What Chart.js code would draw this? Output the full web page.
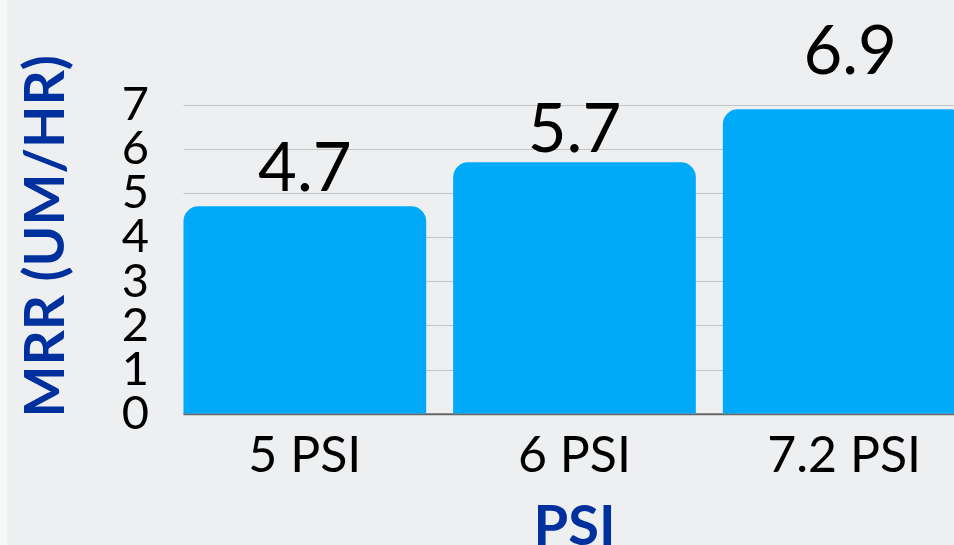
<!DOCTYPE html>
<html>
<head>
<meta charset="utf-8">
<script src="https://cdn.jsdelivr.net/npm/chart.js@4.4.0/dist/chart.umd.min.js"></script>
<style>
  html, body {
    margin: 0;
    padding: 0;
    overflow: hidden;
    background: #eeeff1;
  }
  body {
    width: 954px;
    height: 545px;
    position: relative;
  }
  .strip {
    position: absolute;
    left: 0;
    top: 0;
    width: 7px;
    height: 545px;
    background: #f6f7f7;
  }
  #wrap {
    position: absolute;
    left: 0;
    top: 0;
    width: 1000px;
    height: 561px;
  }
</style>
</head>
<body>
<div class="strip"></div>
<div id="wrap"><canvas id="myChart"></canvas></div>
<script>
let categories = ["5 PSI", "6 PSI", "7.2 PSI"];
let mrrValues = [4.7, 5.7, 6.9];
let yTicks = [0, 1, 2, 3, 4, 5, 6, 7];

let fontName = "Lato, 'Noto Sans', sans-serif";

// grid lines and axis line start at the first bar, not at the chart edge
let gridPlugin = {
  id: "gridLines",
  beforeDatasetsDraw(chart) {
    let ctx = chart.ctx;
    let bar = chart.getDatasetMeta(0).data[0];
    let left = bar.x - bar.width / 2;
    let right = chart.chartArea.right;
    let y = chart.scales.y;

    ctx.save();
    ctx.strokeStyle = "#c4c4c4";
    ctx.lineWidth = 1;
    yTicks.forEach(v => {
      if (v === 0) return;
      let py = Math.round(y.getPixelForValue(v)) + 0.5;
      ctx.beginPath();
      ctx.moveTo(left, py);
      ctx.lineTo(right, py);
      ctx.stroke();
    });

    ctx.strokeStyle = "#666666";
    ctx.lineWidth = 2;
    let by = y.getPixelForValue(0) + 0.5;
    ctx.beginPath();
    ctx.moveTo(left, by);
    ctx.lineTo(right, by);
    ctx.stroke();
    ctx.restore();
  }
};

// value labels above each bar
let labelPlugin = {
  id: "valueLabels",
  afterDatasetsDraw(chart, args, opts) {
    let ctx = chart.ctx;
    ctx.save();
    ctx.font = "400 67px " + fontName;
    ctx.fillStyle = "#000000";
    ctx.textAlign = "center";
    ctx.textBaseline = "alphabetic";
    chart.getDatasetMeta(0).data.forEach((bar, i) => {
      let gap = opts.gaps[i] || 12;
      let dx = opts.shifts[i] || 0;
      ctx.fillText(String(mrrValues[i]), bar.x + dx, bar.y - gap);
    });
    ctx.restore();
  }
};

let ctx = document.getElementById("myChart").getContext("2d");

let myChart = new Chart(ctx, {
  type: "bar",
  data: {
    labels: categories,
    datasets: [{
      label: "MRR",
      data: mrrValues,
      backgroundColor: "#00aaf9",
      borderRadius: 15,
      borderSkipped: "bottom",
      barPercentage: 0.9,
      categoryPercentage: 1
    }]
  },
  options: {
    responsive: true,
    maintainAspectRatio: false,
    animation: false,
    layout: {
      padding: { top: 59, right: 21, bottom: 0, left: 0 }
    },
    plugins: {
      legend: { display: false },
      tooltip: { enabled: false },
      valueLabels: {
        gaps: [15, 10, 35],
        shifts: [0, 0, 6]
      }
    },
    scales: {
      x: {
        grid: { display: false, drawTicks: false },
        border: { display: false },
        ticks: {
          color: "#000000",
          padding: 12,
          font: { family: fontName, size: 50 }
        },
        title: {
          display: true,
          text: "PSI",
          color: "#00309e",
          padding: 0,
          font: { family: fontName, size: 56, weight: "bold" }
        },
        afterFit(scale) {
          scale.height = 147.3;
        }
      },
      y: {
        min: 0,
        max: 8.04,
        grid: { display: false, drawTicks: false },
        border: { display: false },
        ticks: {
          stepSize: 1,
          autoSkip: false,
          color: "#000000",
          padding: 21,
          font: { family: fontName, size: 47 }
        },
        afterBuildTicks(scale) {
          scale.ticks = yTicks.map(v => ({ value: v }));
        },
        title: {
          display: true,
          text: "MRR (UM/HR)",
          color: "#00309e",
          padding: { top: 13, bottom: 0 },
          font: { family: fontName, size: 55, weight: "bold" }
        },
        afterFit(scale) {
          scale.width = 170;
        }
      }
    }
  },
  plugins: [gridPlugin, labelPlugin]
});
</script>
</body>
</html>
